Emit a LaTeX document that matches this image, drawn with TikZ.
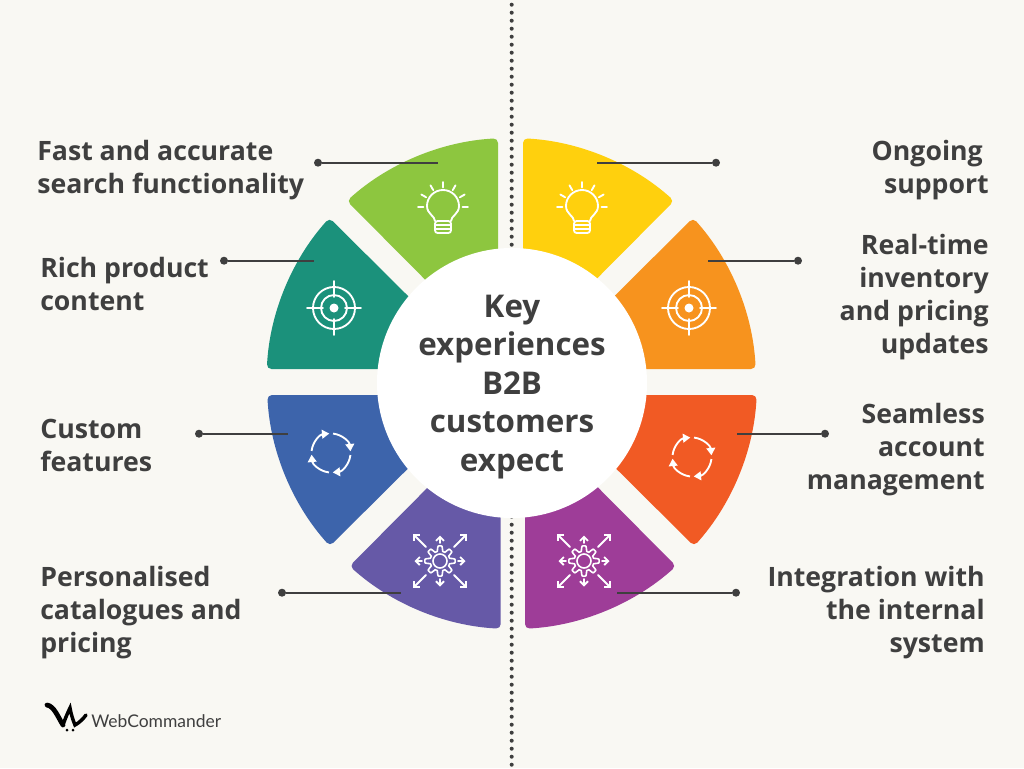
\documentclass[tikz,border=0pt]{standalone}
\usepackage{fontspec}
\usetikzlibrary{arrows.meta}
\setmainfont{Open Sans}
\newfontfamily\logofont{Lato}
\definecolor{mbg}{HTML}{F9F8F3}
\definecolor{mtext}{HTML}{3F3F3F}
\definecolor{mgreen}{HTML}{8DC63F}
\definecolor{mteal}{HTML}{1B917B}
\definecolor{myellow}{HTML}{FFD00D}
\definecolor{morange}{HTML}{F7931E}
\definecolor{mred}{HTML}{F15A24}
\definecolor{mblue}{HTML}{3D64AB}
\definecolor{mviolet}{HTML}{6659A7}
\definecolor{mpurple}{HTML}{9E3D98}

\tikzset{
  label/.style={font=\fontsize{20}{24.75}\selectfont\bfseries, text=mtext, inner sep=0pt},
  leftlabel/.style={label, anchor=west, align=left},
  rightlabel/.style={label, anchor=east, align=right},
  leaddot/.style={circle, fill=mtext, inner sep=0pt, minimum size=6pt},
  leader/.style={mtext, line width=1.5pt},
  seg/.style={rounded corners=3.5},
  icon/.style={white, line width=1.4pt, line cap=round},
  bulb/.pic={
    \draw[icon] (-8,14) .. controls (-8,9) and (-16,7) .. (-16,-1) arc[start angle=180, end angle=360, radius=16] .. controls (16,7) and (8,9) .. (8,14);
    \draw[icon, rounded corners=2] (-8,14) -- (-8,26) -- (8,26) -- (8,14) -- cycle;
    \draw[icon] (-8,18) -- (8,18) (-8,22) -- (8,22);
    \foreach \a in {180,210,...,360} {\draw[icon] (\a:19.5) -- (\a:25);}
  },
  crosshair/.pic={
    \draw[icon] (0,0) circle[radius=21] (0,0) circle[radius=13];
    \fill[white] (0,0) circle[radius=4.5];
    \foreach \a in {0,90,180,270} {\draw[icon] (\a:11) -- (\a:27);}
  },
  cycle arrows/.pic={
    \foreach \a in {0,90,180,270} {
      \draw[icon, line cap=butt, -{Triangle[length=5.5pt,width=6.5pt]}] (\a-84:19.5) arc[start angle=\a-84, end angle=\a-5, radius=19.5];
    }
  },
  gear arrows/.pic={
    \draw[icon, line width=1.2pt] plot[domain=0:360, samples=145, smooth] (\x:{12.5+2.6*max(-1,min(1,1.8*cos(8*\x)))}) -- cycle;
    \draw[icon, line width=1.2pt] (0,0) circle[radius=7];
    \foreach \a in {0,90,180,270} {\draw[icon, -{Straight Barb[length=3pt,width=6pt]}] (\a:18) -- (\a:25.5);}
    \foreach \a in {45,135,225,315} {\draw[icon, -{Straight Barb[length=3pt,width=6pt]}] (\a:20) -- (\a:38);}
  },
}

% upper and lower wedge of one quadrant, drawn around the middle of the ring
\newcommand{\wedgeA}[4]{\fill[#1, seg, shift={(#2)}, xscale=#3, yscale=#4] (12.5,-30) -- (12.5,-244.7) arc[start angle=-87, end angle=-48, radius=245] -- cycle;}
\newcommand{\wedgeB}[4]{\fill[#1, seg, shift={(#2)}, xscale=#3, yscale=#4] (30,-12.5) -- (244.7,-12.5) arc[start angle=-3, end angle=-42, radius=245] -- cycle;}

\begin{document}
\begin{tikzpicture}[x=.75pt, y=-.75pt]
\useasboundingbox (0,0) rectangle (1024,768);
\fill[mbg] (0,0) rectangle (1024,768);

% Divider
\draw[mtext, line width=3pt, line cap=round, dash pattern=on 0pt off 6pt] (511.7,4.7) -- (511.7,768);

% Ring
\wedgeA{myellow}{510.5,383}{1}{1}
\wedgeB{morange}{511,381.5}{1}{1}
\wedgeA{mgreen}{510.5,383}{-1}{1}
\wedgeB{mteal}{511.5,381.5}{-1}{1}
\wedgeA{mpurple}{512.5,384}{1}{-1}
\wedgeB{mred}{512,382.5}{1}{-1}
\wedgeA{mviolet}{513.2,384}{-1}{-1}
\wedgeB{mblue}{512,382.5}{-1}{-1}

\node[circle, fill=white, minimum size=202.5pt, inner sep=0pt] (hub) at (512,383) {};
\node[align=center, text=mtext, inner sep=0pt, font=\fontsize{23.5}{28.9}\selectfont\bfseries] (hubtext) at (512,387) {Key\\experiences\\B2B\\customers\\expect};

% Icons
\pic at (443,207) {bulb};
\pic at (582,207) {bulb};
\pic at (334,308) {crosshair};
\pic at (689,308) {crosshair};
\pic at (331,453) {cycle arrows};
\pic at (692,457) {cycle arrows};
\pic at (440,561) {gear arrows};
\pic at (584,561) {gear arrows};

% Labels
\node[leftlabel] (fast) at (37,170) {Fast and accurate\\search functionality};
\node[leftlabel] (rich) at (40,284) {Rich product\\content};
\node[leftlabel] (custom) at (40,445) {Custom\\features};
\node[leftlabel] (pers) at (40,613) {Personalised\\catalogues and\\pricing};
\node[rightlabel] (ongoing) at (989,170) {Ongoing\hspace*{4.5pt}\\support};
\node[rightlabel] (real) at (989,297) {Real-time\\inventory\\and pricing\\updates};
\node[rightlabel] (seam) at (985,450) {Seamless\\account\\management};
\node[rightlabel] (integ) at (985,613) {Integration with\\the internal\\system};

% Leader lines
\foreach \name/\dx/\y/\ex in {a/318/162.7/438, b/224/260.7/314, c/199/433.7/288, d/282/592.7/401, e/716/162.7/597, f/798/260.7/708, g/825/433.7/737, h/736/592.7/617} {
  \node[leaddot] (dot\name) at (\dx,\y) {};
  \coordinate (end\name) at (\ex,\y);
  \draw[leader] (dot\name) -- (end\name);
}

% Logo
\draw[black, line width=3.6pt, line cap=round] (47,705) .. controls (54,706) and (58,717) .. (63,725);
\draw[black, line width=2.6pt, line cap=round] (63,725) .. controls (65,719) and (68,712) .. (70,708) .. controls (71,714) and (73,720) .. (75,725) .. controls (79,723) and (83,719) .. (86,715);
\fill[black] (67,730) circle[radius=1.5] (73,730) circle[radius=1.5];
\node[font=\logofont\fontsize{13.1}{16}\selectfont, text=mtext, anchor=west, inner sep=0pt] (logo) at (91,721) {WebCommander};
\end{tikzpicture}
\end{document}
